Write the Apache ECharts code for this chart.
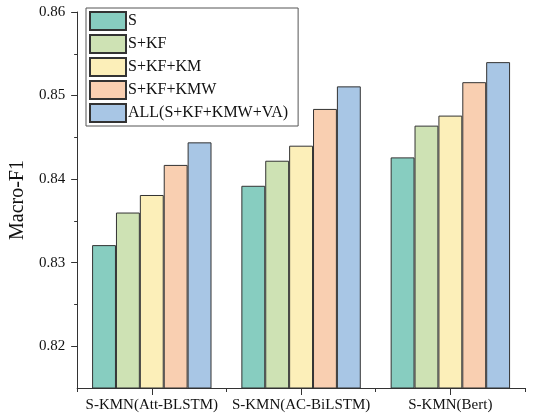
<!DOCTYPE html>
<html>
<head>
<meta charset="utf-8">
<script src="https://cdn.jsdelivr.net/npm/echarts@6/dist/echarts.min.js"></script>
<style>
  html, body { margin: 0; padding: 0; background: #fff; }
  #chart { width: 535px; height: 419px; }
</style>
</head>
<body>
<div id="chart"></div>
<script>
// 分组
const categories = ['S-KMN(Att-BLSTM)', 'S-KMN(AC-BiLSTM)', 'S-KMN(Bert)']
const seriesNames = ['S', 'S+KF', 'S+KF+KM', 'S+KF+KMW', 'ALL(S+KF+KMW+VA)']
// 各组 Macro-F1
const valS = [0.8321, 0.8392, 0.8426]
const valKF = [0.8360, 0.8422, 0.8464]
const valKM = [0.8381, 0.8440, 0.8476]
const valKMW = [0.8417, 0.8484, 0.8516]
const valAll = [0.8444, 0.8511, 0.8540]
// y 轴刻度
const majorTicks = [0.82, 0.83, 0.84, 0.85, 0.86]
const minorTicks = [0.825, 0.835, 0.845, 0.855]

const colors = ['#87cdc0', '#cee2b4', '#fcefb9', '#f9cfb1', '#a8c6e5']
const font = 'Liberation Serif, Times New Roman, serif'
const seriesValues = [valS, valKF, valKM, valKMW, valAll]

const chart = echarts.init(document.getElementById('chart'))

const seriesData = seriesNames.map((name, i) => {
  return {
    name: name,
    type: 'bar',
    xAxisIndex: 0,
    yAxisIndex: 0,
    data: seriesValues[i],
    barGap: '0%',
    barCategoryGap: '20%',
    itemStyle: {
      color: colors[i],
      borderColor: '#333',
      borderWidth: 1
    }
  }
})

const axisLine = { show: true, lineStyle: { color: '#333', width: 1 } }

chart.setOption({
  animation: false,
  grid: {
    left: 70,
    right: 10,
    top: 12,
    bottom: 31
  },
  legend: {
    orient: 'vertical',
    left: 86,
    top: 8,
    data: seriesNames,
    icon: 'rect',
    itemWidth: 36,
    itemHeight: 18,
    itemGap: 3,
    padding: [3, 10, 3, 3],
    borderColor: '#555',
    borderWidth: 1,
    textStyle: {
      fontFamily: font,
      fontSize: 16,
      color: '#111',
      padding: [0, 0, 0, -3]
    }
  },
  xAxis: [
    {
      type: 'category',
      data: categories,
      axisLine: axisLine,
      axisTick: { show: true, alignWithLabel: true, length: 7, lineStyle: { color: '#333' } },
      axisLabel: {
        interval: 0,
        hideOverlap: false,
        fontFamily: font,
        fontSize: 15,
        color: '#111',
        margin: 10
      },
      splitLine: { show: false }
    },
    {
      // 组间分隔短刻度
      type: 'category',
      position: 'bottom',
      data: categories,
      axisLine: { show: false },
      axisTick: { show: true, alignWithLabel: false, length: 4, lineStyle: { color: '#333' } },
      axisLabel: { show: false },
      splitLine: { show: false }
    }
  ],
  yAxis: [
    {
      type: 'value',
      min: 0.815,
      max: 0.86,
      name: 'Macro-F1',
      nameLocation: 'middle',
      nameGap: 44,
      nameTextStyle: { fontFamily: font, fontSize: 20, color: '#111' },
      axisLine: axisLine,
      axisTick: { show: true, length: 6, customValues: majorTicks, lineStyle: { color: '#333' } },
      axisLabel: {
        customValues: majorTicks,
        fontFamily: font,
        fontSize: 15,
        color: '#111',
        margin: 12,
        formatter: v => v.toFixed(2)
      },
      splitLine: { show: false }
    },
    {
      // 次刻度
      type: 'value',
      position: 'left',
      min: 0.815,
      max: 0.86,
      axisLine: { show: false },
      axisTick: { show: true, length: 3, customValues: minorTicks, lineStyle: { color: '#333' } },
      axisLabel: { show: false },
      splitLine: { show: false }
    }
  ],
  series: seriesData
})
</script>
</body>
</html>
